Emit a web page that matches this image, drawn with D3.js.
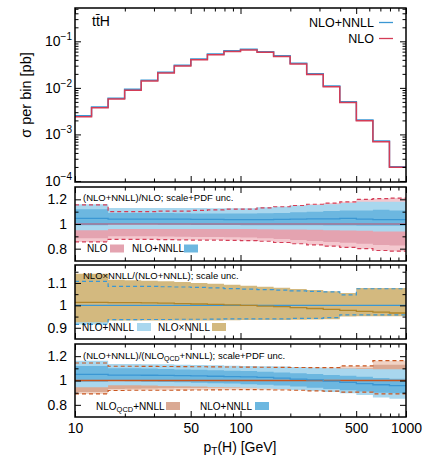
<!DOCTYPE html>
<html>
<head>
<meta charset="utf-8">
<script src="https://cdn.jsdelivr.net/npm/d3@7"></script>
<style>
  body { margin: 0; background: #fff; }
  text { font-family: "Liberation Sans", Arial, Helvetica, sans-serif; fill: #000; }
</style>
</head>
<body>
<svg id="chart" width="432" height="471"></svg>
<script>
// bin edges in pT(H) [GeV]
const binEdges = [10, 12.59, 15.85, 19.95, 25.12, 31.62, 39.81, 50.12, 63.1, 79.43, 100,
                  125.9, 158.5, 199.5, 251.2, 316.2, 398.1, 501.2, 631, 794.3, 1000];

// sigma per bin [pb]
const xsNloNnll = [0.00252, 0.0039, 0.0060, 0.0093, 0.0146, 0.0216, 0.0306, 0.0418, 0.0535, 0.0630,
                   0.0675, 0.0600, 0.0487, 0.0338, 0.0202, 0.0110, 0.00505, 0.00204, 0.00072, 0.000203];
const xsNlo = [0.00241, 0.00373, 0.00577, 0.00894, 0.01404, 0.02077, 0.02942, 0.04027, 0.05154, 0.06081,
               0.06515, 0.05792, 0.04692, 0.0325, 0.01939, 0.01056, 0.00483, 0.00196, 0.000696, 0.000196];

// panel 1: (NLO+NNLL)/NLO
const p1NnllCentral = [1.045, 1.045, 1.04, 1.04, 1.04, 1.04, 1.04, 1.038, 1.038, 1.036, 1.036, 1.036, 1.038, 1.04, 1.042, 1.042, 1.045, 1.04, 1.035, 1.035];
const p1NloHi = [1.155, 1.155, 1.10, 1.10, 1.10, 1.105, 1.105, 1.11, 1.115, 1.12, 1.12, 1.13, 1.14, 1.15, 1.16, 1.17, 1.18, 1.20, 1.205, 1.21];
const p1NloLo = [0.855, 0.855, 0.875, 0.875, 0.875, 0.873, 0.872, 0.87, 0.87, 0.868, 0.865, 0.86, 0.85, 0.84, 0.83, 0.82, 0.81, 0.80, 0.785, 0.78];
const p1NloScaleHi = [1.12, 1.12, 1.07, 1.07, 1.07, 1.075, 1.075, 1.08, 1.085, 1.09, 1.09, 1.10, 1.11, 1.12, 1.13, 1.14, 1.15, 1.16, 1.17, 1.17];
const p1NloScaleLo = [0.885, 0.885, 0.9, 0.9, 0.9, 0.898, 0.897, 0.895, 0.894, 0.892, 0.89, 0.885, 0.878, 0.87, 0.862, 0.855, 0.848, 0.84, 0.83, 0.825];
const p1NnllHi = [1.16, 1.16, 1.13, 1.13, 1.13, 1.13, 1.13, 1.13, 1.128, 1.128, 1.128, 1.135, 1.14, 1.15, 1.155, 1.16, 1.17, 1.18, 1.18, 1.18];
const p1NnllLo = [0.95, 0.95, 0.96, 0.96, 0.96, 0.96, 0.96, 0.96, 0.96, 0.96, 0.96, 0.958, 0.956, 0.955, 0.953, 0.95, 0.948, 0.945, 0.94, 0.94];
const p1NnllScaleHi = [1.12, 1.12, 1.09, 1.09, 1.09, 1.09, 1.088, 1.086, 1.085, 1.085, 1.085, 1.088, 1.09, 1.095, 1.10, 1.105, 1.11, 1.11, 1.115, 1.11];
const p1NnllScaleLo = [0.99, 0.99, 0.995, 0.995, 0.995, 0.994, 0.993, 0.992, 0.992, 0.991, 0.99, 0.99, 0.99, 0.99, 0.99, 0.988, 0.988, 0.985, 0.985, 0.985];

// panel 2: NLOxNNLL/(NLO+NNLL), scale only
const p2ProdCentral = [1.013, 1.013, 1.012, 1.012, 1.011, 1.01, 1.008, 1.006, 1.004, 1.002, 1.0, 0.997, 0.994, 0.99, 0.986, 0.982, 0.978, 0.973, 0.97, 0.966];
const p2ProdHi = [1.141, 1.141, 1.114, 1.112, 1.11, 1.107, 1.104, 1.10, 1.096, 1.092, 1.088, 1.083, 1.078, 1.073, 1.068, 1.063, 1.055, 1.077, 1.077, 1.077];
const p2ProdLo = [0.925, 0.925, 0.932, 0.932, 0.932, 0.932, 0.932, 0.933, 0.933, 0.934, 0.935, 0.935, 0.935, 0.936, 0.937, 0.938, 0.95, 0.952, 0.952, 0.952];
const p2NnllHi = [1.107, 1.107, 1.085, 1.085, 1.085, 1.083, 1.082, 1.08, 1.078, 1.075, 1.072, 1.07, 1.068, 1.065, 1.062, 1.06, 1.047, 1.074, 1.074, 1.074];
const p2NnllLo = [0.915, 0.915, 0.936, 0.936, 0.937, 0.937, 0.938, 0.938, 0.939, 0.94, 0.94, 0.94, 0.94, 0.942, 0.942, 0.945, 0.958, 0.958, 0.958, 0.958];

// panel 3: (NLO+NNLL)/(NLO_QCD+NNLL)
const p3QcdHi = [1.144, 1.144, 1.117, 1.117, 1.116, 1.115, 1.114, 1.113, 1.112, 1.111, 1.11, 1.109, 1.108, 1.107, 1.106, 1.106, 1.12, 1.12, 1.163, 1.163];
const p3QcdLo = [0.89, 0.89, 0.918, 0.92, 0.92, 0.92, 0.921, 0.922, 0.923, 0.924, 0.925, 0.924, 0.922, 0.92, 0.915, 0.912, 0.905, 0.905, 0.89, 0.89];
const p3QcdScaleHi = [1.12, 1.12, 1.1, 1.1, 1.1, 1.1, 1.098, 1.097, 1.096, 1.095, 1.094, 1.093, 1.092, 1.091, 1.09, 1.09, 1.1, 1.1, 1.13, 1.13];
const p3QcdScaleLo = [0.905, 0.905, 0.93, 0.932, 0.935, 0.937, 0.938, 0.938, 0.94, 0.94, 0.94, 0.938, 0.936, 0.933, 0.93, 0.926, 0.92, 0.918, 0.905, 0.905];
const p3NnllCentral = [1.05, 1.05, 1.045, 1.044, 1.043, 1.042, 1.04, 1.038, 1.035, 1.032, 1.03, 1.025, 1.02, 1.012, 1.005, 0.995, 0.985, 0.975, 0.965, 0.958];
const p3NnllHi = [1.163, 1.163, 1.136, 1.135, 1.134, 1.133, 1.13, 1.128, 1.125, 1.122, 1.12, 1.118, 1.115, 1.11, 1.105, 1.10, 1.098, 1.095, 1.093, 1.093];
const p3NnllLo = [0.945, 0.945, 0.96, 0.96, 0.958, 0.955, 0.952, 0.95, 0.947, 0.944, 0.94, 0.935, 0.93, 0.922, 0.915, 0.905, 0.895, 0.88, 0.86, 0.85];
const p3NnllScaleHi = [1.12, 1.12, 1.1, 1.1, 1.098, 1.095, 1.09, 1.088, 1.085, 1.08, 1.078, 1.072, 1.066, 1.06, 1.053, 1.045, 1.04, 1.03, 1.02, 1.015];
const p3NnllScaleLo = [0.99, 0.99, 0.995, 0.993, 0.99, 0.988, 0.985, 0.982, 0.978, 0.975, 0.97, 0.965, 0.958, 0.95, 0.94, 0.93, 0.92, 0.91, 0.9, 0.895];

// ticks
const xMajor = [10, 50, 100, 500, 1000];
const topMajor = [1e-4, 1e-3, 1e-2, 1e-1];
const r1Major = [0.8, 1, 1.2], r1Minor = [0.9, 1.1];
const r2Major = [0.9, 1, 1.1], r2Minor = [0.95, 1.05, 1.15];

const col = {
  blue: '#3b97d3', blueLight: '#a9d7ee', blueDark: '#6cb7e0',
  red: '#d43c56', pinkLight: '#f4c8cf', pinkDark: '#e4a3b0',
  tan: '#d3b97f', gold: '#b0852a',
  orange: '#c9561f', qcdLight: '#f0d3c5', qcdDark: '#daa993'
};

const svg = d3.select('#chart');
const L = 75, R = 406;
const x = d3.scaleLog().domain([10, 1000]).range([L, R]);

// turn per-bin values into points for step curves
function stepPts(vals) {
  let pts = vals.map((v, i) => ({x: binEdges[i], v: v}));
  pts.push({x: binEdges[binEdges.length - 1], v: vals[vals.length - 1]});
  return pts;
}
function bandPts(lo, hi) {
  let pts = lo.map((v, i) => ({x: binEdges[i], lo: v, hi: hi[i]}));
  pts.push({x: binEdges[binEdges.length - 1], lo: lo[lo.length - 1], hi: hi[hi.length - 1]});
  return pts;
}

function makePanel(id, top, bottom, y) {
  svg.append('clipPath').attr('id', 'clip-' + id)
    .append('rect').attr('x', L).attr('y', top).attr('width', R - L).attr('height', bottom - top);
  return svg.append('g').attr('clip-path', 'url(#clip-' + id + ')');
}

function band(g, y, lo, hi, color, opacity) {
  let area = d3.area().curve(d3.curveStepAfter)
    .x(d => x(d.x)).y0(d => y(d.lo)).y1(d => y(d.hi));
  g.append('path').datum(bandPts(lo, hi))
    .attr('d', area).attr('fill', color).attr('opacity', opacity || 1);
}

function step(g, y, vals, color, dash, width, opacity) {
  let line = d3.line().curve(d3.curveStepAfter).x(d => x(d.x)).y(d => y(d.v));
  g.append('path').datum(stepPts(vals))
    .attr('d', line).attr('fill', 'none').attr('stroke', color)
    .attr('stroke-width', width || 1.3)
    .attr('stroke-dasharray', dash || null)
    .attr('opacity', opacity || 1);
}

function flat(g, y, value, color, width, opacity) {
  g.append('line').attr('x1', L).attr('x2', R).attr('y1', y(value)).attr('y2', y(value))
    .attr('stroke', color).attr('stroke-width', width || 1.3).attr('opacity', opacity || 1);
}

function styleAxis(a, size) {
  a.select('.domain').remove();
  a.selectAll('line').attr('stroke', '#000').attr('stroke-width', 1);
  a.selectAll('text').attr('font-size', size || 14);
}

function frame(top, bottom, y, yMajor, yMinor, yPad, showX, yFmt) {
  const xMinor = x.ticks().filter(v => xMajor.indexOf(v) < 0);
  const g = svg.append('g');
  g.append('g').attr('transform', `translate(0,${bottom})`)
    .call(d3.axisBottom(x).tickValues(xMajor).tickSizeInner(-6).tickSizeOuter(0).tickPadding(6)
      .tickFormat(showX ? d3.format('d') : () => '')).call(styleAxis);
  g.append('g').attr('transform', `translate(0,${bottom})`)
    .call(d3.axisBottom(x).tickValues(xMinor).tickSizeInner(-3.5).tickSizeOuter(0).tickFormat(() => '')).call(styleAxis);
  g.append('g').attr('transform', `translate(0,${top})`)
    .call(d3.axisTop(x).tickValues(xMajor).tickSizeInner(-6).tickSizeOuter(0).tickFormat(() => '')).call(styleAxis);
  g.append('g').attr('transform', `translate(0,${top})`)
    .call(d3.axisTop(x).tickValues(xMinor).tickSizeInner(-3.5).tickSizeOuter(0).tickFormat(() => '')).call(styleAxis);

  const left = g.append('g').attr('transform', `translate(${L},0)`)
    .call(d3.axisLeft(y).tickValues(yMajor).tickSizeInner(-6).tickSizeOuter(0).tickPadding(yPad)
      .tickFormat(yFmt || (d => String(d)))).call(styleAxis);
  g.append('g').attr('transform', `translate(${L},0)`)
    .call(d3.axisLeft(y).tickValues(yMinor).tickSizeInner(-3.5).tickSizeOuter(0).tickFormat(() => '')).call(styleAxis);
  g.append('g').attr('transform', `translate(${R},0)`)
    .call(d3.axisRight(y).tickValues(yMajor).tickSizeInner(-6).tickSizeOuter(0).tickFormat(() => '')).call(styleAxis);
  g.append('g').attr('transform', `translate(${R},0)`)
    .call(d3.axisRight(y).tickValues(yMinor).tickSizeInner(-3.5).tickSizeOuter(0).tickFormat(() => '')).call(styleAxis);

  g.append('rect').attr('x', L).attr('y', top).attr('width', R - L).attr('height', bottom - top)
    .attr('fill', 'none').attr('stroke', '#000').attr('stroke-width', 1.5);
  return left;
}

function swatch(xp, yc, color) {
  svg.append('rect').attr('x', xp).attr('y', yc - 4).attr('width', 14).attr('height', 8).attr('fill', color);
}
function label(xp, yb, txt, size, anchor) {
  return svg.append('text').attr('x', xp).attr('y', yb).attr('font-size', size)
    .attr('text-anchor', anchor || 'start').text(txt);
}

// ---------- top panel ----------
const yTop = d3.scaleLog().domain([9.5e-5, 0.52]).range([182, 8]);
const gTop = makePanel('top', 8, 182, yTop);
step(gTop, yTop, xsNloNnll, col.blue, null, 1.5);
step(gTop, yTop, xsNlo, col.red, null, 1.5);

const topMinor = yTop.ticks().filter(v => topMajor.indexOf(v) < 0);
const topLeft = frame(8, 182, yTop, topMajor, topMinor, 3, false, () => '');
topLeft.selectAll('.tick text').each(function(d) {
  const t = d3.select(this);
  t.text('10');
  t.append('tspan').attr('dy', -6).attr('font-size', 10).text('\u2212' + Math.round(-Math.log10(d)));
});

label(92, 26, 'tt\u0304H', 14);
label(374, 27, 'NLO+NNLL', 12.5, 'end');
label(374, 43, 'NLO', 12.5, 'end');
svg.append('line').attr('x1', 379).attr('x2', 393).attr('y1', 22.5).attr('y2', 22.5).attr('stroke', col.blue).attr('stroke-width', 1.3);
svg.append('line').attr('x1', 379).attr('x2', 393).attr('y1', 38.5).attr('y2', 38.5).attr('stroke', col.red).attr('stroke-width', 1.3);

// ---------- panel 1 ----------
const y1 = d3.scaleLinear().domain([0.7, 1.3]).range([261, 187]);
const g1 = makePanel('p1', 187, 261, y1);
band(g1, y1, p1NloLo, p1NloHi, col.pinkLight);
band(g1, y1, p1NloScaleLo, p1NloScaleHi, col.pinkDark);
band(g1, y1, p1NnllLo, p1NnllHi, col.blueLight);
band(g1, y1, p1NnllScaleLo, p1NnllScaleHi, col.blueDark);
flat(g1, y1, 1, col.red, 1.3, 0.55);
step(g1, y1, p1NnllCentral, col.blue, null, 1.3);
step(g1, y1, p1NloHi, col.red, '4,3', 1.2);
step(g1, y1, p1NloLo, col.red, '4,3', 1.2);
frame(187, 261, y1, r1Major, r1Minor, 8, false);
label(83, 200.5, '(NLO+NNLL)/NLO; scale+PDF unc.', 9.5);
label(87, 252, 'NLO', 10);
swatch(110, 248.5, col.pinkDark);
label(132, 252, 'NLO+NNLL', 10);
swatch(184, 248.5, col.blueDark);

// ---------- panel 2 ----------
const y2 = d3.scaleLinear().domain([0.85, 1.18]).range([339, 265]);
const g2 = makePanel('p2', 265, 339, y2);
band(g2, y2, p2NnllLo, p2NnllHi, col.blueLight);
band(g2, y2, p2ProdLo, p2ProdHi, col.tan);
flat(g2, y2, 1, col.blue, 1.3);
step(g2, y2, p2ProdCentral, col.gold, null, 1.3);
step(g2, y2, p2NnllHi, col.blue, '4,3', 1.2);
step(g2, y2, p2NnllLo, col.blue, '4,3', 1.2);
frame(265, 339, y2, r2Major, r2Minor, 8, false);
label(83, 279, 'NLO\u00d7NNLL/(NLO+NNLL); scale unc.', 9.5);
label(82, 330.5, 'NLO+NNLL', 10);
swatch(137, 327, col.blueLight);
label(158, 330.5, 'NLO\u00d7NNLL', 10);
swatch(212, 327, col.tan);

// ---------- panel 3 ----------
const y3 = d3.scaleLinear().domain([0.7, 1.3]).range([417, 344]);
const g3 = makePanel('p3', 344, 417, y3);
band(g3, y3, p3QcdLo, p3QcdHi, col.qcdLight);
band(g3, y3, p3QcdScaleLo, p3QcdScaleHi, col.qcdDark);
band(g3, y3, p3NnllLo, p3NnllHi, col.blueLight);
band(g3, y3, p3NnllScaleLo, p3NnllScaleHi, col.blueDark);
flat(g3, y3, 1, col.orange, 1.3);
step(g3, y3, p3NnllCentral, col.blue, null, 1.3);
step(g3, y3, p3QcdHi, col.orange, '4,3', 1.2);
step(g3, y3, p3QcdLo, col.orange, '4,3', 1.2);
frame(344, 417, y3, r1Major, r1Minor, 8, true);

const h3 = label(83, 358.5, '(NLO+NNLL)/(NLO', 9.5);
h3.append('tspan').attr('dy', 2.5).attr('font-size', 7).text('QCD');
h3.append('tspan').attr('dy', -2.5).text('+NNLL); scale+PDF unc.');
const l3 = label(96, 409.5, 'NLO', 10);
l3.append('tspan').attr('dy', 2.5).attr('font-size', 7.5).text('QCD');
l3.append('tspan').attr('dy', -2.5).text('+NNLL');
swatch(166, 406, col.qcdDark);
label(200, 409.5, 'NLO+NNLL', 10);
swatch(255, 406, col.blueDark);

// ---------- axis titles ----------
const xt = label(240, 452, 'p', 14, 'middle');
xt.append('tspan').attr('dy', 3).attr('font-size', 10).text('T');
xt.append('tspan').attr('dy', -3).text('(H) [GeV]');

svg.append('text').attr('transform', 'translate(31,95) rotate(-90)')
  .attr('text-anchor', 'middle').attr('font-size', 14.5).text('\u03c3 per bin [pb]');
</script>
</body>
</html>
